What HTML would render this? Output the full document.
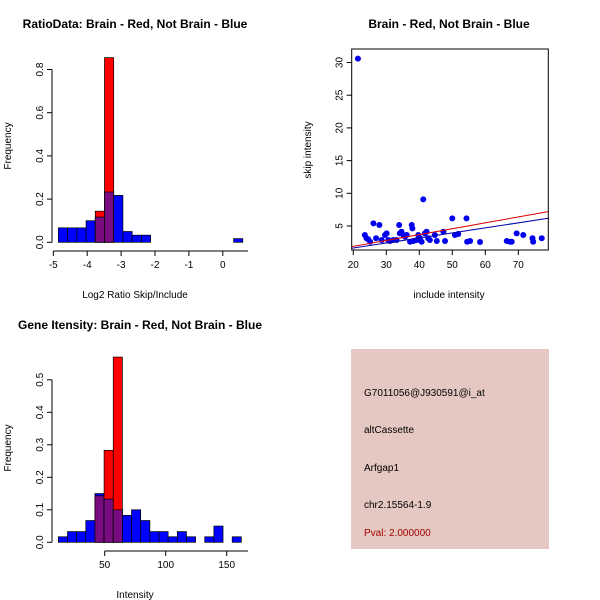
<!DOCTYPE html>
<html><head><meta charset="utf-8"><style>
html,body{margin:0;padding:0;background:#fff}
svg{display:block;font-family:"Liberation Sans",sans-serif}
</style></head><body>
<svg id="s" width="600" height="600" viewBox="0 0 600 600" xmlns="http://www.w3.org/2000/svg">
<text x="135" y="28" text-anchor="middle" font-size="12" font-weight="bold">RatioData: Brain - Red, Not Brain - Blue</text>
<text x="449" y="28" text-anchor="middle" font-size="12" font-weight="bold">Brain - Red, Not Brain - Blue</text>
<text x="140" y="329" text-anchor="middle" font-size="12" font-weight="bold">Gene Itensity: Brain - Red, Not Brain - Blue</text>
<text x="135" y="298" text-anchor="middle" font-size="10">Log2 Ratio Skip/Include</text>
<text x="449" y="298" text-anchor="middle" font-size="10">include intensity</text>
<text x="135" y="598" text-anchor="middle" font-size="10">Intensity</text>
<text transform="translate(11,146) rotate(-90)" text-anchor="middle" font-size="10">Frequency</text>
<text transform="translate(311,150) rotate(-90)" text-anchor="middle" font-size="10">skip intensity</text>
<text transform="translate(11,448) rotate(-90)" text-anchor="middle" font-size="10">Frequency</text>
<rect x="351" y="349" width="198" height="200" fill="#e6c8c2"/>
<text x="364" y="396" font-size="10">G7011056@J930591@i_at</text>
<text x="364" y="433" font-size="10">altCassette</text>
<text x="364" y="471" font-size="10">Arfgap1</text>
<text x="364" y="508" font-size="10">chr2.15564-1.9</text>
<text x="364" y="536" font-size="10" fill="#a00000">Pval: 2.000000</text>
<g id="g1"></g><g id="g2"></g><g id="g3"></g>
</svg>
<script>
// Ratio histogram data
const ratioBinStart = -4.85, ratioBinWidth = 0.272;
const ratioBlue = [0.067,0.067,0.067,0.1,0.117,0.233,0.217,0.05,0.033,0.033,0,0,0,0,0,0,0,0,0,0.017];
const ratioRed = [0,0,0,0,0.144,0.855,0,0,0,0,0,0,0,0,0,0,0,0,0,0];
const ratioXTicks = [-5,-4,-3,-2,-1,0];
const ratioYTicks = [0,0.2,0.4,0.6,0.8];
// Intensity histogram data
const intBinStart = 12, intBinWidth = 7.5;
const intBlue = [0.017,0.033,0.033,0.067,0.15,0.133,0.1,0.083,0.1,0.067,0.033,0.033,0.017,0.033,0.017,0,0.017,0.05,0,0.017];
const intRed = [0,0,0,0,0.143,0.283,0.57,0,0,0,0,0,0,0,0,0,0,0,0,0];
const intXTicks = [50,100,150];
const intYTicks = [0,0.1,0.2,0.3,0.4,0.5];
// Scatter data
const scatX = [21.4,23.5,24.0,24.5,25.1,26.1,26.9,27.9,28.6,29.6,30.1,30.6,31.1,32.1,33.1,33.9,34.1,34.6,35.2,35.7,36.2,37.2,37.7,37.9,38.2,39.2,39.7,40.2,40.7,41.2,41.7,42.2,42.7,43.2,44.7,45.3,47.3,47.8,50.0,50.8,51.8,54.3,54.5,55.4,58.4,66.5,67.5,68.0,69.5,71.5,74.3,74.5,77.1];
const scatY = [30.6,3.62,3.12,2.97,2.6,5.41,3.12,5.15,2.86,3.62,3.88,2.86,2.71,2.86,2.86,5.15,3.88,4.13,3.62,3.37,3.62,2.6,5.15,4.64,2.71,2.86,3.62,3.12,2.6,9.08,3.88,4.13,3.12,2.86,3.62,2.71,4.13,2.71,6.17,3.62,3.78,6.17,2.6,2.71,2.55,2.71,2.6,2.6,3.88,3.62,3.12,2.6,3.12];
const scatXTicks = [20,30,40,50,60,70];
const scatYTicks = [5,10,15,20,25,30];
const redFit = [0.085, 0.090];
const blueFit = [0.09, 0.077];

const NS="http://www.w3.org/2000/svg";
function mk(parent,tag,attrs){const e=document.createElementNS(NS,tag);for(const k in attrs)e.setAttribute(k,attrs[k]);parent.appendChild(e);return e;}

function hist(g,prefix,x,y,start,w,blue,red,xt,yt,axisY,axisX,xEnd,yFmt){
  for(let i=0;i<blue.length;i++){
    const x0=x(start+i*w),x1=x(start+(i+1)*w);
    const b=blue[i],r=red[i];
    if(b>0){const e=mk(g,'rect',{x:x0,y:y(b),width:x1-x0,height:y(0)-y(b),fill:'#0000ff',stroke:'#000',"stroke-width":0.7});
      
      }
    if(r>0){const e=mk(g,'rect',{x:x0,y:y(r),width:x1-x0,height:y(0)-y(r),fill:'#ff0000',stroke:'#000',"stroke-width":0.7});
      
      }
    if(b>0&&r>0){const m=Math.min(b,r);const e=mk(g,'rect',{x:x0,y:y(m),width:x1-x0,height:y(0)-y(m),fill:'#7a0a80',stroke:'#000',"stroke-width":0.7});
      
      }
  }
  mk(g,'line',{x1:axisX,x2:axisX,y1:y(yt[0]),y2:y(yt[yt.length-1]),stroke:'#000'});
  yt.forEach(v=>{mk(g,'line',{x1:axisX-5,x2:axisX,y1:y(v),y2:y(v),stroke:'#000'});
    const t=mk(g,'text',{transform:`translate(${axisX-9},${y(v)}) rotate(-90)`,"text-anchor":"middle","font-size":10});t.textContent=yFmt(v);
    
    });
  mk(g,'line',{x1:x(xt[0]),x2:xEnd,y1:axisY,y2:axisY,stroke:'#000'});
  xt.forEach(v=>{mk(g,'line',{x1:x(v),x2:x(v),y1:axisY,y2:axisY+5,stroke:'#000'});
    const t=mk(g,'text',{x:x(v),y:axisY+17,"text-anchor":"middle","font-size":10});t.textContent=v;
    
    });
}
{const g=document.getElementById('g1');
 const x=v=>53.3+(v+5)*33.9, y=v=>242.3-v*216;
 hist(g,'ratio',x,y,ratioBinStart,ratioBinWidth,ratioBlue,ratioRed,ratioXTicks,ratioYTicks,251,52,248,v=>v.toFixed(1));}
{const g=document.getElementById('g3');
 const x=v=>104.7+(v-50)*1.22, y=v=>542.3-v*325;
 hist(g,'intensity',x,y,intBinStart,intBinWidth,intBlue,intRed,intXTicks,intYTicks,551,52,248,v=>v.toFixed(1));}
{const g=document.getElementById('g2');
 const x=v=>353.3+(v-20)*3.3, y=v=>226-(v-5)*6.54;
 const L=351.7,R=548.3,T=49,B=250;
 const cp=mk(g,'clipPath',{id:'cp'});mk(cp,'rect',{x:L,y:T,width:R-L,height:B-T});
 scatX.forEach((v,i)=>{const c=mk(g,'circle',{cx:x(v),cy:y(scatY[i]),r:3,fill:'#0000ee'});
   
   });
 const x0=(L-353.3)/3.3+20,x1=(R-353.3)/3.3+20;
 const rl=mk(g,'line',{x1:x(x0),y1:y(redFit[0]+redFit[1]*x0),x2:x(x1),y2:y(redFit[0]+redFit[1]*x1),stroke:'#dd0000',"clip-path":"url(#cp)"});
 
 
 const bl=mk(g,'line',{x1:x(x0),y1:y(blueFit[0]+blueFit[1]*x0),x2:x(x1),y2:y(blueFit[0]+blueFit[1]*x1),stroke:'#0000aa',"clip-path":"url(#cp)"});
 
 
 const box=mk(g,'rect',{x:L,y:T,width:R-L,height:B-T,fill:'none',stroke:'#000'});
 
 
 scatXTicks.forEach(v=>{mk(g,'line',{x1:x(v),x2:x(v),y1:B,y2:B+5,stroke:'#000'});
   const t=mk(g,'text',{x:x(v),y:B+18,"text-anchor":"middle","font-size":10});t.textContent=v;
   
   });
 scatYTicks.forEach(v=>{mk(g,'line',{x1:L-5,x2:L,y1:y(v),y2:y(v),stroke:'#000'});
   const t=mk(g,'text',{transform:`translate(${L-9},${y(v)}) rotate(-90)`,"text-anchor":"middle","font-size":10});t.textContent=v;
   
   });
}
</script>
</body></html>
